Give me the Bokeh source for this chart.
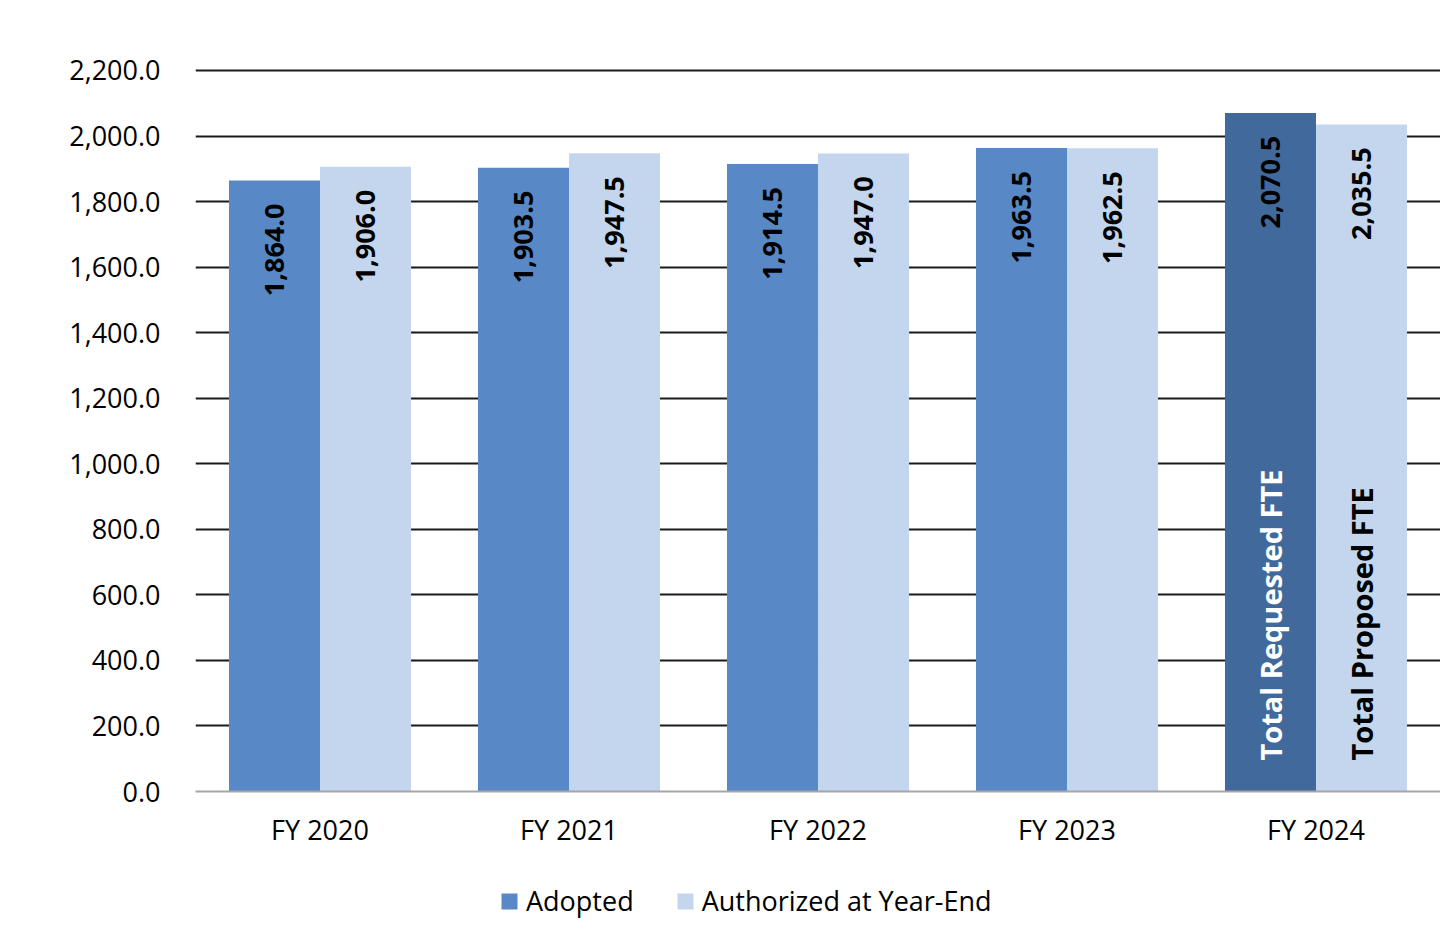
import math
from bokeh.plotting import figure
from bokeh.layouts import column
from bokeh.models import ColumnDataSource, FactorRange, Range1d, FixedTicker, NumeralTickFormatter, Legend, LegendItem
from bokeh.transform import dodge
from bokeh.core.properties import value
from bokeh.embed import file_html
from bokeh.resources import INLINE

categories = ["FY 2020", "FY 2021", "FY 2022", "FY 2023", "FY 2024"]
adopted = [1864.0, 1903.5, 1914.5, 1963.5, 2070.5]
authorized = [1906.0, 1947.5, 1947.0, 1962.5, 2035.5]
adopted_colors = ["#5889c6", "#5889c6", "#5889c6", "#5889c6", "#41699b"]
adopted_color = "#5889c6"
authorized_color = "#c3d6ee"
series_names = ["Adopted", "Authorized at Year-End"]
y_ticks = list(range(0, 2201, 200))
fy24_notes = ["Total Requested FTE", "Total Proposed FTE"]

FONT = "Open Sans"

src = ColumnDataSource(dict(
    cat=categories,
    adopted=adopted,
    authorized=authorized,
    acolor=adopted_colors,
    alabel=["{:,.1f}".format(v) for v in adopted],
    blabel=["{:,.1f}".format(v) for v in authorized],
))

p = figure(
    x_range=FactorRange(*categories, range_padding=0),
    y_range=Range1d(0, 2206),
    width=1440, height=860,
    output_backend="svg", toolbar_location=None,
    min_border_left=195, min_border_right=0, min_border_top=68, min_border_bottom=69,
)
p.outline_line_color = None
p.background_fill_color = "white"
p.border_fill_color = "white"

bw = 0.3655
off = 0.1828
r1 = p.vbar(x=dodge("cat", -off, range=p.x_range), top="adopted", width=bw, source=src,
            fill_color="acolor", line_color=None)
r2 = p.vbar(x=dodge("cat", off, range=p.x_range), top="authorized", width=bw, source=src,
            fill_color=authorized_color, line_color=None)

# value labels
p.text(x=dodge("cat", -off, range=p.x_range), y="adopted", text="alabel", source=src,
       angle=math.pi / 2, text_align="right", text_baseline="middle", y_offset=23,
       text_font=value(FONT), text_font_style="bold", text_font_size="27px", text_color="black")
p.text(x=dodge("cat", off, range=p.x_range), y="authorized", text="blabel", source=src,
       angle=math.pi / 2, text_align="right", text_baseline="middle", y_offset=23,
       text_font=value(FONT), text_font_style="bold", text_font_size="27px", text_color="black")

# FY 2024 notes
note_src = ColumnDataSource(dict(cat=[categories[-1]], y=[0], n1=[fy24_notes[0]], n2=[fy24_notes[1]]))
p.text(x=dodge("cat", -off, range=p.x_range), y="y", text="n1", source=note_src,
       angle=math.pi / 2, text_align="left", text_baseline="middle", y_offset=-31,
       text_font=value(FONT), text_font_style="bold", text_font_size="29px", text_color="white")
p.text(x=dodge("cat", off, range=p.x_range), y="y", text="n2", source=note_src,
       angle=math.pi / 2, text_align="left", text_baseline="middle", y_offset=-31,
       text_font=value(FONT), text_font_style="bold", text_font_size="29px", text_color="black")

# axes
p.yaxis.ticker = FixedTicker(ticks=y_ticks)
p.yaxis.formatter = NumeralTickFormatter(format="0,0.0")
p.yaxis.axis_line_color = None
p.yaxis.major_tick_line_color = None
p.yaxis.minor_tick_line_color = None
p.yaxis.major_label_standoff = 29
p.yaxis.major_label_text_font = FONT
p.yaxis.major_label_text_font_size = "27px"
p.yaxis.major_label_text_color = "black"

p.xaxis.axis_line_color = "#a6a6a6"
p.xaxis.axis_line_width = 2
p.xaxis.major_tick_line_color = None
p.xaxis.minor_tick_line_color = None
p.xaxis.major_label_standoff = 13
p.xaxis.major_label_text_font = FONT
p.xaxis.major_label_text_font_size = "27px"
p.xaxis.major_label_text_color = "black"

p.xgrid.grid_line_color = None
p.ygrid.ticker = FixedTicker(ticks=y_ticks[1:])
p.ygrid.grid_line_color = "#1a1a1a"
p.ygrid.grid_line_width = 2

# legend strip (its frame is aligned with the main frame by the column layout)
lg = figure(width=1440, height=61, output_backend="svg", toolbar_location=None,
            x_range=Range1d(0, 1), y_range=Range1d(0, 1),
            min_border_left=195, min_border_right=0, min_border_top=0, min_border_bottom=0)
lg.axis.visible = False
lg.grid.visible = False
lg.outline_line_color = None
lg.border_fill_color = "white"
lr1 = lg.vbar(x=[-5], top=[-5], width=0.1, fill_color=adopted_color, line_color=None)
lr2 = lg.vbar(x=[-5], top=[-5], width=0.1, fill_color=authorized_color, line_color=None)
legend = Legend(items=[LegendItem(label=series_names[0], renderers=[lr1]),
                       LegendItem(label=series_names[1], renderers=[lr2])],
                orientation="horizontal", location=(304, 2),
                glyph_width=20, glyph_height=20, label_standoff=7, spacing=41,
                padding=0, margin=0, border_line_color=None, background_fill_alpha=0,
                label_text_font=FONT, label_text_font_size="27px", label_text_color="black")
lg.add_layout(legend, "center")

open("out.html", "w").write(file_html(column(p, lg, spacing=0), INLINE))
